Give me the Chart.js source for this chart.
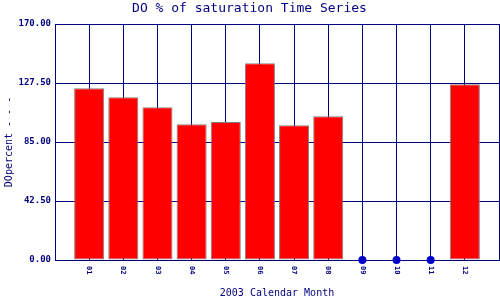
<!DOCTYPE html>
<html>
<head>
<meta charset="utf-8">
<script src="https://cdn.jsdelivr.net/npm/chart.js@4"></script>
<style>
  body { margin: 0; background: #fff; }
  #wrap { width: 500px; height: 300px; }
</style>
</head>
<body>
<div id="wrap"><canvas id="doChart" width="500" height="300"></canvas></div>
<script>
// DO % of saturation, monthly, 2003
const months = ['01', '02', '03', '04', '05', '06', '07', '08', '09', '10', '11', '12'];
const doPercent = [123.7, 117.2, 110.0, 97.7, 99.4, 141.7, 97.0, 103.5, 0, 0, 0, 126.6];
const yTicks = [0, 42.5, 85, 127.5, 170];

const navy = '#000080';
const mono = "'DejaVu Sans Mono', 'Liberation Mono', monospace";

// one empty slot each side, like the original axis
const labels = [''].concat(months, ['']);
const barData = [null].concat(doPercent.map(v => v > 0 ? v : null), [null]);
const dotData = [null].concat(doPercent.map(v => v === 0 ? 0 : null), [null]);

// x labels read top-to-bottom, so draw them by hand
const xLabelPlugin = {
  id: 'xLabels',
  afterDraw(chart) {
    const x = chart.scales.x;
    const c = chart.ctx;
    c.save();
    c.fillStyle = navy;
    c.font = 'bold 7px ' + mono;
    c.textAlign = 'left';
    c.textBaseline = 'middle';
    labels.forEach((lab, i) => {
      if (!lab) return;
      c.save();
      c.translate(x.getPixelForTick(i), x.top + 6);
      c.rotate(Math.PI / 2);
      c.fillText(lab, 0, 0);
      c.restore();
    });
    c.restore();
  }
};

const ctx = document.getElementById('doChart').getContext('2d');
const doChart = new Chart(ctx, {
  data: {
    labels: labels,
    datasets: [{
      type: 'bar',
      data: barData,
      backgroundColor: '#ff0000',
      borderColor: '#808080',
      borderWidth: 1,
      borderSkipped: false,
      barPercentage: 0.88,
      categoryPercentage: 1
    }, {
      type: 'line',
      data: dotData,
      showLine: false,
      pointRadius: 4,
      pointBackgroundColor: '#0000cc',
      pointBorderWidth: 0,
      clip: false
    }]
  },
  options: {
    responsive: false,
    animation: false,
    layout: { autoPadding: false, padding: { right: 1 } },
    plugins: {
      legend: { display: false },
      tooltip: { enabled: false },
      title: {
        display: true,
        text: 'DO % of saturation Time Series',
        color: navy,
        font: { family: mono, size: 13, weight: 'normal' },
        padding: { top: 1, bottom: 7.4 }
      }
    },
    scales: {
      x: {
        type: 'category',
        offset: false,
        grid: { color: navy, offset: false, drawTicks: false },
        border: { color: navy },
        ticks: { display: false, autoSkip: false },
        title: {
          display: true,
          text: '2003 Calendar Month',
          color: navy,
          font: { family: mono, size: 10 },
          padding: { top: 0, bottom: 1 }
        },
        afterFit(s) { s.height = 40; }
      },
      y: {
        min: 0,
        max: 170,
        afterBuildTicks(s) { s.ticks = yTicks.map(v => ({ value: v })); },
        grid: { color: navy, drawTicks: false },
        border: { color: navy },
        ticks: {
          color: navy,
          padding: 4,
          font: { family: mono, size: 9, weight: 'bold' },
          callback: v => v.toFixed(2)
        },
        title: {
          display: true,
          text: 'DOpercent - - -',
          color: navy,
          font: { family: mono, size: 10 },
          padding: { top: 3, bottom: 0 }
        },
        afterFit(s) { s.width = 55; }
      }
    }
  },
  plugins: [xLabelPlugin]
});
</script>
</body>
</html>
